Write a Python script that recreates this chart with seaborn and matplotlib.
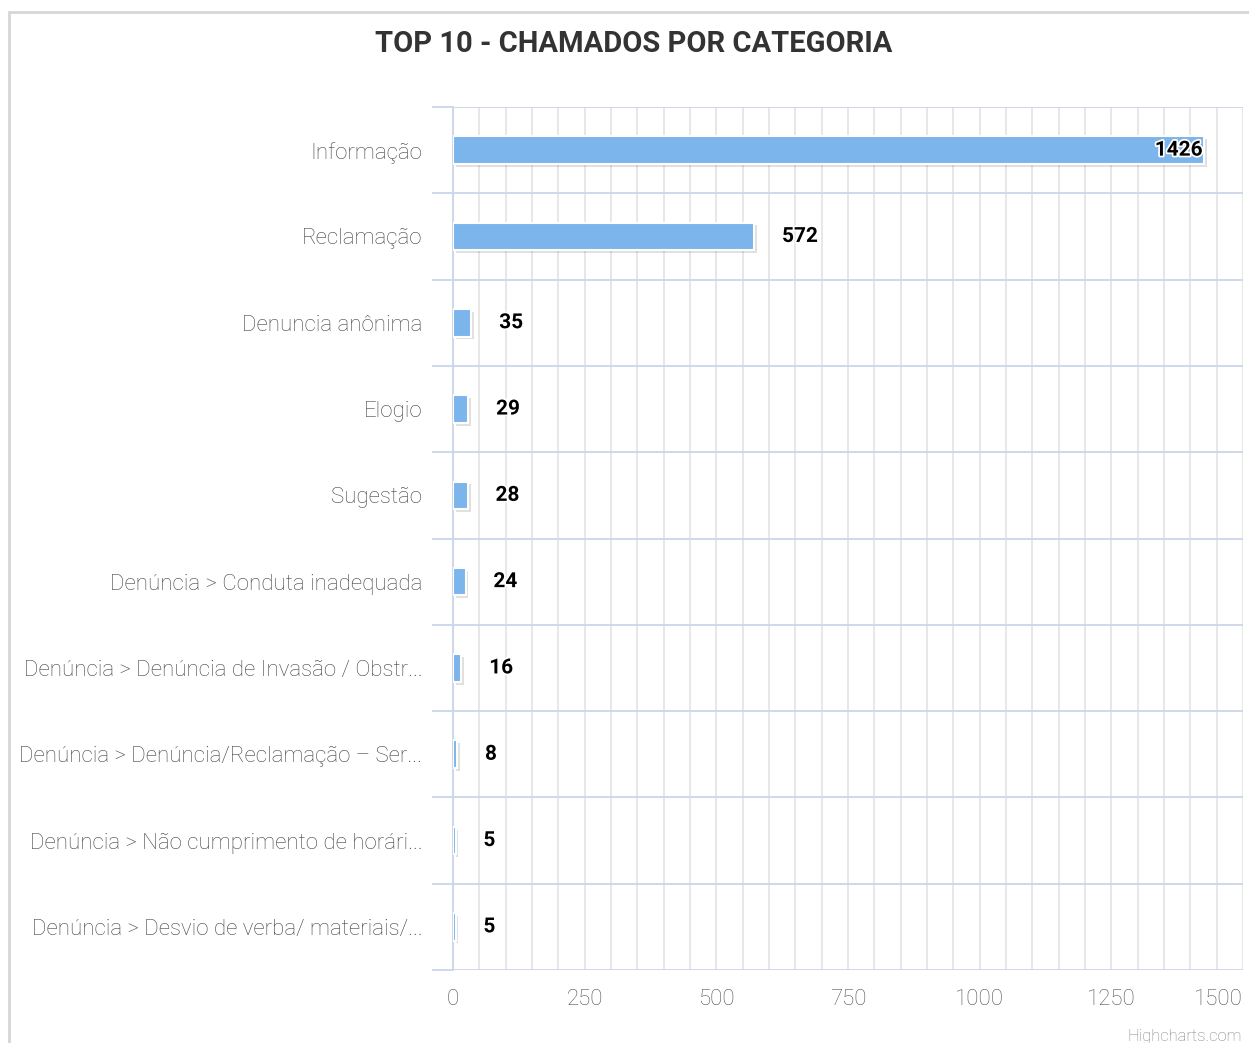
import numpy as np
import pandas as pd
import seaborn as sns
import matplotlib.pyplot as plt
import matplotlib.patheffects as pe
from matplotlib.patches import Rectangle

# Top 10 categories
categorias = [
    "Informação",
    "Reclamação",
    "Denuncia anônima",
    "Elogio",
    "Sugestão",
    "Denúncia > Conduta inadequada",
    "Denúncia > Denúncia de Invasão / Obstr...",
    "Denúncia > Denúncia/Reclamação – Ser...",
    "Denúncia > Não cumprimento de horári...",
    "Denúncia > Desvio de verba/ materiais/...",
]
chamados = [1426, 572, 35, 29, 28, 24, 16, 8, 5, 5]
x_ticks = [0, 250, 500, 750, 1000, 1250, 1500]

df = pd.DataFrame({"categoria": categorias, "chamados": chamados})

sns.set_style("white")
plt.rcParams["font.family"] = ["Roboto", "DejaVu Sans"]

W, H = 1249, 1043
fig = plt.figure(figsize=(W / 100, H / 100), dpi=100)
ax = fig.add_axes([453 / W, 1 - 970 / H, (1243 - 453) / W, (970 - 107) / H])

# Chart frame (only top/left edges visible in the crop)
fig.patches.append(Rectangle((9 / W, -0.1), 1.2, 1 - 12 / H + 0.1, transform=fig.transFigure,
                             fill=False, edgecolor="#d6d6d6", linewidth=2, zorder=0))

sns.barplot(data=df, x="chamados", y="categoria", orient="h", color="#7cb5ec",
            width=0.32, edgecolor="white", linewidth=1.5, saturation=1, ax=ax, zorder=3)

for bar in ax.patches:
    bar.set_path_effects([pe.SimplePatchShadow(offset=(2, -2), shadow_rgbFace="black", alpha=0.12),
                          pe.Normal()])

ax.set_xlim(0, 1500)
ax.set_ylim(9.5, -0.5)
ax.set_xticks(x_ticks)
ax.set_xticks(np.arange(0, 1501, 50), minor=True)
ax.set_yticks(np.arange(-0.5, 10, 1), minor=True)

ax.grid(True, which="both", axis="x", color="#e3e3e3", linewidth=1.2, zorder=0)
ax.grid(True, which="minor", axis="y", color="#ccd6eb", linewidth=1.3, zorder=0)
ax.set_axisbelow(True)

ax.tick_params(axis="y", which="major", length=0, pad=22, labelsize=16, labelcolor="#444444")
ax.tick_params(axis="y", which="minor", length=15, width=1.3, color="#ccd6eb", direction="out", left=True)
ax.tick_params(axis="x", which="both", length=0, pad=14, labelsize=16, labelcolor="#555555")
for t in ax.get_yticklabels() + ax.get_xticklabels():
    t.set_fontweight("light")
ax.get_xticklabels()[-1].set_horizontalalignment("right")

for s in ["top", "right", "bottom"]:
    ax.spines[s].set_visible(False)
ax.spines["left"].set_color("#ccd6eb")
ax.spines["left"].set_linewidth(1.3)
ax.set_xlabel("")
ax.set_ylabel("")

# Data labels
outline = [pe.withStroke(linewidth=2.5, foreground="white")]
for i, v in enumerate(chamados):
    if v > 1300:
        ax.annotate(str(v), (v, i), xytext=(-1, 0), textcoords="offset points",
                    ha="right", va="center", fontsize=15, fontweight="bold",
                    color="black", path_effects=outline, zorder=5)
    else:
        ax.annotate(str(v), (v, i), xytext=(20, 0), textcoords="offset points",
                    ha="left", va="center", fontsize=15, fontweight="bold",
                    color="black", path_effects=outline, zorder=5)

fig.text(634 / W, 1 - 44 / H, "TOP 10 - CHAMADOS POR CATEGORIA", ha="center", va="center",
         fontsize=21, fontweight="bold", color="#333333")
fig.text(1242 / W, 1 - 1036 / H, "Highcharts.com", ha="right", va="center",
         fontsize=12, color="#808080", fontweight="light")

fig.savefig("out.png", dpi=100, facecolor="white")
